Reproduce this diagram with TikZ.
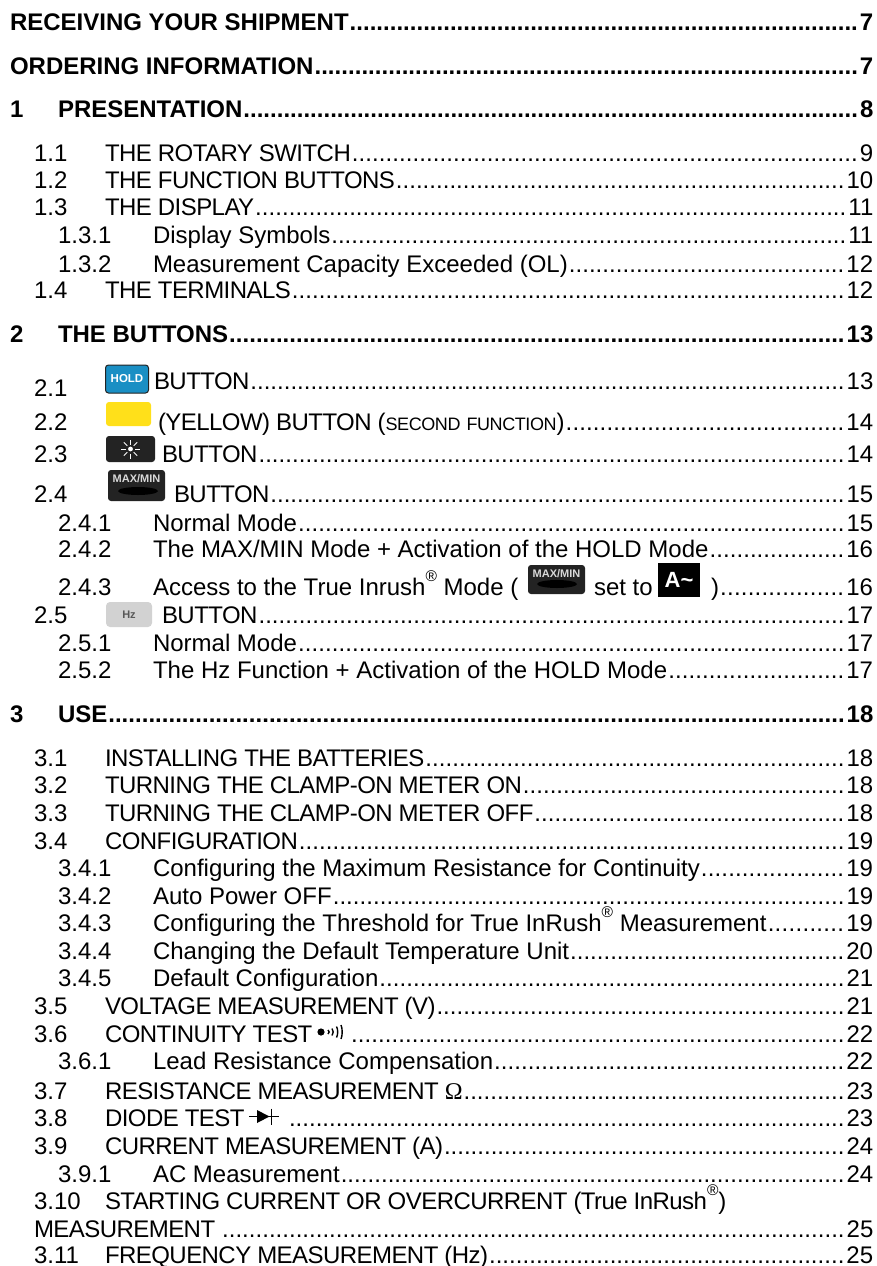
\documentclass[tikz,border=0pt]{standalone}
\usepackage{fontspec}
\setmainfont{Liberation Sans}
\newfontfamily\symfont{Liberation Serif}
\definecolor{holdblue}{HTML}{1A8FC4}
\definecolor{btnyellow}{HTML}{FFE01A}
\definecolor{btndark}{HTML}{232323}
\definecolor{btngray}{HTML}{D2D2D2}
\newcommand\tocdots{\xleaders\hbox to 6.67pt{\hss.\hss}\hfill}
\newcommand\tocsp{\addfontfeatures{LetterSpace=-2.3}\spaceskip=.25em\relax}
\newcommand\regm{\raisebox{.58em}{\fontsize{15.5}{17}\selectfont ®}}
% style, id, y, x, num
\newcommand\tocnum[5]{\node[#1,anchor=base west] (#2n) at (#4,#3) {#5};}
% style, id, y, x, text, page
\newcommand\tocrest[6]{\node[#1,anchor=base west] (#2t) at (#4,#3) {\hbox to \dimexpr 873pt-#4pt\relax{#5\hskip1pt\tocdots\hskip2pt #6}};}
\newcommand\tocplain[5]{\node[#1,anchor=base west] (#2t) at (#4,#3) {#5};}
\newcommand\tocpg[1]{{\normalfontpg #1}}
\newcommand\normalfontpg{\fontsize{24}{26}\selectfont\normalfont\fontsize{24}{26}\selectfont}
\tikzset{
  x=1pt,y=-1pt,
  tocbase/.style={inner sep=0pt,outer sep=0pt,text=black},
  lone/.style={tocbase,font=\fontsize{24}{26}\selectfont\bfseries},
  ltwo/.style={tocbase,font=\fontsize{24}{26}\selectfont\tocsp},
  lthree/.style={tocbase,font=\fontsize{24}{26}\selectfont},
  iconbox/.style={inner sep=0pt,outer sep=0pt,rounded corners=3pt,anchor=north west,align=center},
}
\begin{document}
\begin{tikzpicture}
\useasboundingbox (0,0) rectangle (876,1266);
\fill[white] (0,0) rectangle (876,1266);
% Headings
\tocrest{lone}{rs}{30}{10}{RECEIVING YOUR SHIPMENT}{7}
\tocrest{lone}{oi}{74}{10}{ORDERING INFORMATION}{7}
\tocnum{lone}{a}{117}{10}{1}
\tocrest{lone}{a}{117}{58}{PRESENTATION}{8}
\tocnum{lthree}{a1}{161}{34}{1.1}
\tocrest{ltwo}{a1}{161}{105}{THE ROTARY SWITCH}{\tocpg{9}}
\tocnum{lthree}{a2}{188}{34}{1.2}
\tocrest{ltwo}{a2}{188}{105}{THE FUNCTION BUTTONS}{\tocpg{10}}
\tocnum{lthree}{a3}{215}{34}{1.3}
\tocrest{ltwo}{a3}{215}{105}{THE DISPLAY}{\tocpg{11}}
\tocnum{lthree}{a31}{243}{58}{1.3.1}
\tocrest{lthree}{a31}{243}{153}{Display Symbols}{11}
\tocnum{lthree}{a32}{272}{58}{1.3.2}
\tocrest{lthree}{a32}{272}{153}{Measurement Capacity Exceeded (OL)}{12}
\tocnum{lthree}{a4}{298}{34}{1.4}
\tocrest{ltwo}{a4}{298}{105}{THE TERMINALS}{\tocpg{12}}
% Section 2
\tocnum{lone}{b}{342}{10}{2}
\tocrest{lone}{b}{342}{58}{THE BUTTONS}{13}
\tocnum{lthree}{b1}{396}{34}{2.1}
\node[iconbox,fill=holdblue,draw=btndark,line width=1pt,minimum width=43pt,minimum height=28pt,text=white,font=\fontsize{11.5}{13}\selectfont\bfseries] (hold) at (105.5,365) {HOLD};
\tocrest{ltwo}{b1}{389}{154}{BUTTON}{\tocpg{13}}
\tocnum{lthree}{b2}{430}{34}{2.2}
\node[iconbox,fill=btnyellow,minimum width=45pt,minimum height=24pt] (yel) at (106,402) {};
\tocrest{ltwo}{b2}{430}{158}{(YELLOW) BUTTON ({\fontsize{18}{20}\selectfont SECOND FUNCTION})}{\tocpg{14}}
\tocnum{lthree}{b3}{462}{34}{2.3}
\node[iconbox,fill=btndark,minimum width=49pt,minimum height=26pt] (sun) at (106,436) {};
\fill[white] (130.5,449) circle (2.4);
\foreach \a in {0,45,...,315}{\draw[white,line width=.8pt] (130.5,449) ++(\a:4.5) -- ++(\a:5);}
\tocrest{ltwo}{b3}{462}{162}{BUTTON}{\tocpg{14}}
\tocnum{lthree}{b4}{502}{34}{2.4}
\node[iconbox,fill=btndark,minimum width=57pt,minimum height=31pt,text=white!85!black,font=\fontsize{11}{12}\selectfont\bfseries,text depth=13pt] (mm) at (108,470) {MAX/MIN};
\fill[black] (138,491) ellipse (20 and 4);
\tocrest{ltwo}{b4}{502}{174}{BUTTON}{\tocpg{15}}
\tocnum{lthree}{b41}{531}{58}{2.4.1}
\tocrest{lthree}{b41}{531}{153}{Normal Mode}{15}
\tocnum{lthree}{b42}{557}{58}{2.4.2}
\tocrest{lthree}{b42}{557}{153}{The MAX/MIN Mode + Activation of the HOLD Mode}{16}
\tocnum{lthree}{b43}{595}{58}{2.4.3}
\tocplain{lthree}{b43a}{595}{153}{Access to the True Inrush\regm{} Mode (}
\node[iconbox,fill=btndark,minimum width=57pt,minimum height=29pt,text=white!85!black,font=\fontsize{11}{12}\selectfont\bfseries,text depth=12pt] (mmb) at (528,565) {MAX/MIN};
\fill[black] (557,584) ellipse (20 and 4);
\tocplain{lthree}{b43b}{595}{594}{set to}
\node[iconbox,fill=black,rounded corners=0pt,minimum width=42pt,minimum height=34pt,text=white,font=\fontsize{22}{24}\selectfont\bfseries] (amp) at (658,563) {A\symbol{126}};
\tocrest{lthree}{b43}{595}{711}{)}{16}
\tocnum{lthree}{b5}{623}{34}{2.5}
\node[iconbox,fill=btngray,rounded corners=4pt,minimum width=46pt,minimum height=25pt,text=black!65,font=\fontsize{11}{12}\selectfont\bfseries] (hz) at (106,602) {Hz};
\tocrest{ltwo}{b5}{623}{162}{BUTTON}{\tocpg{17}}
\tocnum{lthree}{b51}{651}{58}{2.5.1}
\tocrest{lthree}{b51}{651}{153}{Normal Mode}{17}
\tocnum{lthree}{b52}{678}{58}{2.5.2}
\tocrest{lthree}{b52}{678}{153}{The Hz Function + Activation of the HOLD Mode}{17}
% Section 3
\tocnum{lone}{c}{722}{10}{3}
\tocrest{lone}{c}{722}{58}{USE}{18}
\tocnum{lthree}{c1}{766}{34}{3.1}
\tocrest{ltwo}{c1}{766}{105}{INSTALLING THE BATTERIES}{\tocpg{18}}
\tocnum{lthree}{c2}{793}{34}{3.2}
\tocrest{ltwo}{c2}{793}{105}{TURNING THE CLAMP-ON METER ON}{\tocpg{18}}
\tocnum{lthree}{c3}{821}{34}{3.3}
\tocrest{ltwo}{c3}{821}{105}{TURNING THE CLAMP-ON METER OFF}{\tocpg{18}}
\tocnum{lthree}{c4}{849}{34}{3.4}
\tocrest{ltwo}{c4}{849}{105}{CONFIGURATION}{\tocpg{19}}
\tocnum{lthree}{c41}{876}{58}{3.4.1}
\tocrest{lthree}{c41}{876}{153}{Configuring the Maximum Resistance for Continuity}{19}
\tocnum{lthree}{c42}{904}{58}{3.4.2}
\tocrest{lthree}{c42}{904}{153}{Auto Power OFF}{19}
\tocnum{lthree}{c43}{931}{58}{3.4.3}
\tocrest{lthree}{c43}{931}{153}{Configuring the Threshold for True InRush\regm{} Measurement}{19}
\tocnum{lthree}{c44}{959}{58}{3.4.4}
\tocrest{lthree}{c44}{959}{153}{Changing the Default Temperature Unit}{20}
\tocnum{lthree}{c45}{986}{58}{3.4.5}
\tocrest{lthree}{c45}{986}{153}{Default Configuration}{21}
\tocnum{lthree}{c5}{1014}{34}{3.5}
\tocrest{ltwo}{c5}{1014}{105}{VOLTAGE MEASUREMENT (V)}{\tocpg{21}}
\tocnum{lthree}{c6}{1042}{34}{3.6}
\tocplain{ltwo}{c6a}{1042}{105}{CONTINUITY TEST}
\fill[black] (321,1032) circle (3.6);
\foreach \x/\h in {328/2,332/3.5,336.5/5.5,341/7}{\draw[black,line width=1.4pt] (\x,{1032-\h}) .. controls ({\x+1.6},{1032-\h/2}) and ({\x+1.6},{1032+\h/2}) .. (\x,{1032+\h});}
\tocrest{ltwo}{c6}{1042}{350}{}{\tocpg{22}}
\tocnum{lthree}{c61}{1069}{58}{3.6.1}
\tocrest{lthree}{c61}{1069}{153}{Lead Resistance Compensation}{22}
\tocnum{lthree}{c7}{1099}{34}{3.7}
\tocrest{ltwo}{c7}{1099}{105}{RESISTANCE MEASUREMENT {\symfont Ω}}{\tocpg{23}}
\tocnum{lthree}{c8}{1126}{34}{3.8}
\tocplain{ltwo}{c8a}{1126}{105}{DIODE TEST}
\draw[black,line width=.8pt] (249,1116.5) -- (279,1116.5);
\fill[black] (257,1110) -- (269.5,1116.5) -- (257,1123) -- cycle;
\draw[black,line width=.8pt] (271.5,1108.5) -- (271.5,1124.5);
\tocrest{ltwo}{c8}{1126}{288}{}{\tocpg{23}}
\tocnum{lthree}{c9}{1154}{34}{3.9}
\tocrest{ltwo}{c9}{1154}{105}{CURRENT MEASUREMENT (A)}{\tocpg{24}}
\tocnum{lthree}{c91}{1182}{58}{3.9.1}
\tocrest{lthree}{c91}{1182}{153}{AC Measurement}{24}
\tocnum{lthree}{c10}{1209}{34}{3.10}
\tocplain{ltwo}{c10a}{1209}{105}{STARTING CURRENT OR OVERCURRENT (True InRush\regm)}
\tocrest{ltwo}{c10b}{1237}{34}{MEASUREMENT }{\tocpg{25}}
\tocnum{lthree}{c11}{1263}{34}{3.11}
\tocrest{ltwo}{c11}{1263}{105}{FREQUENCY MEASUREMENT (Hz)}{\tocpg{25}}
\end{tikzpicture}
\end{document}
